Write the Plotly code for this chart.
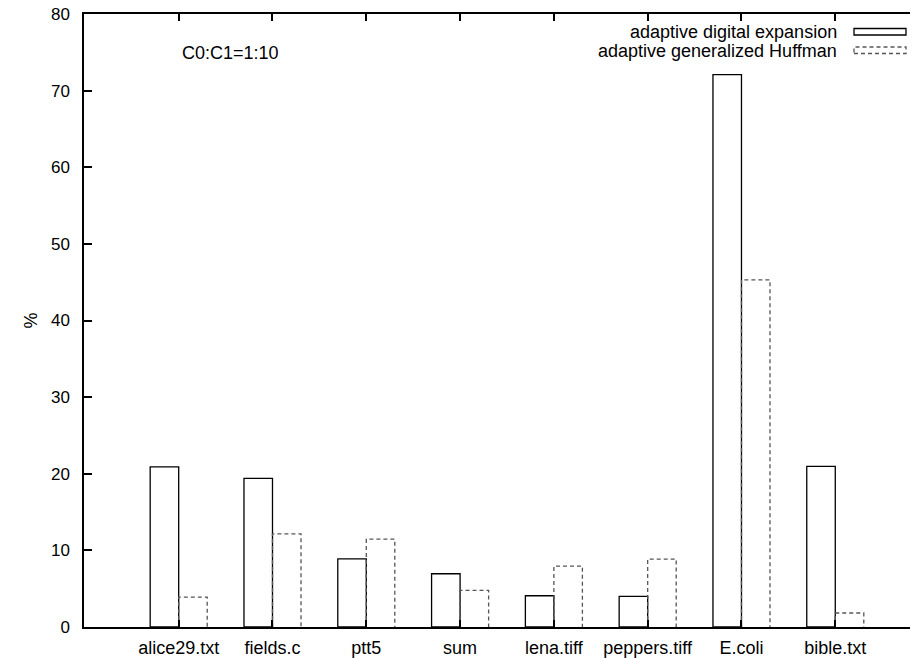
import plotly.graph_objects as go

categories = ["alice29.txt", "fields.c", "ptt5", "sum", "lena.tiff", "peppers.tiff", "E.coli", "bible.txt"]
digital_expansion = [20.9, 19.4, 8.9, 6.95, 4.08, 3.99, 72.1, 20.95]
generalized_huffman = [3.9, 12.15, 11.47, 4.77, 7.95, 8.87, 45.3, 1.83]
yticks = [0, 10, 20, 30, 40, 50, 60, 70, 80]

FONT = "Liberation Sans, Arial, Helvetica, sans-serif"
W = 0.304
idx = list(range(len(categories)))

fig = go.Figure()
fig.add_trace(go.Bar(
    x=idx, y=digital_expansion, name="adaptive digital expansion",
    width=W, offset=-W,
    marker=dict(color="white", line=dict(color="black", width=1.3)),
    showlegend=False,
))
fig.add_trace(go.Bar(
    x=idx, y=generalized_huffman, name="adaptive generalized Huffman",
    width=W, offset=0,
    marker=dict(color="rgba(0,0,0,0)", line=dict(width=0)),
    showlegend=False,
))
# dashed outline for the generalized Huffman bars (built from the data)
ox, oy = [], []
for i, v in zip(idx, generalized_huffman):
    ox += [i, i, i + W, i + W, None]
    oy += [0, v, v, 0, None]
fig.add_trace(go.Scatter(
    x=ox, y=oy, mode="lines", hoverinfo="skip", showlegend=False,
    line=dict(color="#555555", width=1.3, dash="4px,3px"),
))

# page has an 8px body margin: figure spans window px 8..918 / 8..658
OFF = 8
FW, FH = 918 - OFF, 658 - OFF
L, R, T, B = 84 - OFF, 0, 14 - OFF, 31
fig.update_layout(
    width=FW, height=FH,
    margin=dict(l=L, r=R, t=T, b=B, pad=0),
    plot_bgcolor="white", paper_bgcolor="white",
    barmode="overlay",
    font=dict(family=FONT, size=18, color="black"),
    xaxis=dict(
        range=[-1.0096, 7.882], tickmode="array", tickvals=idx, ticktext=categories,
        showline=True, linecolor="black", linewidth=1.5, mirror="ticks",
        ticks="inside", ticklen=7, tickwidth=1.5, tickcolor="black",
        showgrid=False, zeroline=False, ticklabelstandoff=4, automargin=False,
        ticklabeloverflow="allow",
    ),
    yaxis=dict(
        range=[0, 80], tickmode="array", tickvals=yticks,
        showline=True, linecolor="black", linewidth=1.5, mirror=False,
        ticks="inside", ticklen=8, tickwidth=1.5, tickcolor="black",
        showgrid=False, zeroline=False, ticklabelstandoff=9, automargin=False,
        ticklabeloverflow="allow", tickfont=dict(size=17),
        title=dict(text="%", standoff=9, font=dict(size=18)),
    ),
)

pw, ph = FW - L - R, FH - T - B
def px(x): return (x - OFF - L) / pw
def py(y): return (FH - B - (y - OFF)) / ph

fig.add_annotation(x=px(180), y=py(53), xref="paper", yref="paper",
                   text="C0:C1=1:10", showarrow=False, xanchor="left", yanchor="middle")
fig.add_annotation(x=px(839), y=py(32), xref="paper", yref="paper",
                   text="adaptive digital expansion", showarrow=False, xanchor="right", yanchor="middle")
fig.add_annotation(x=px(839), y=py(50.5), xref="paper", yref="paper",
                   text="adaptive generalized Huffman", showarrow=False, xanchor="right", yanchor="middle")
fig.add_shape(type="rect", xref="paper", yref="paper", x0=px(854), x1=px(906), y0=py(35), y1=py(28.5),
              line=dict(color="black", width=1.3), fillcolor="white")
fig.add_shape(type="rect", xref="paper", yref="paper", x0=px(854), x1=px(906), y0=py(53.5), y1=py(47),
              line=dict(color="#555555", width=1.3, dash="4px,3px"), fillcolor="white")

fig.write_html("out.html", config={"displayModeBar": False})
